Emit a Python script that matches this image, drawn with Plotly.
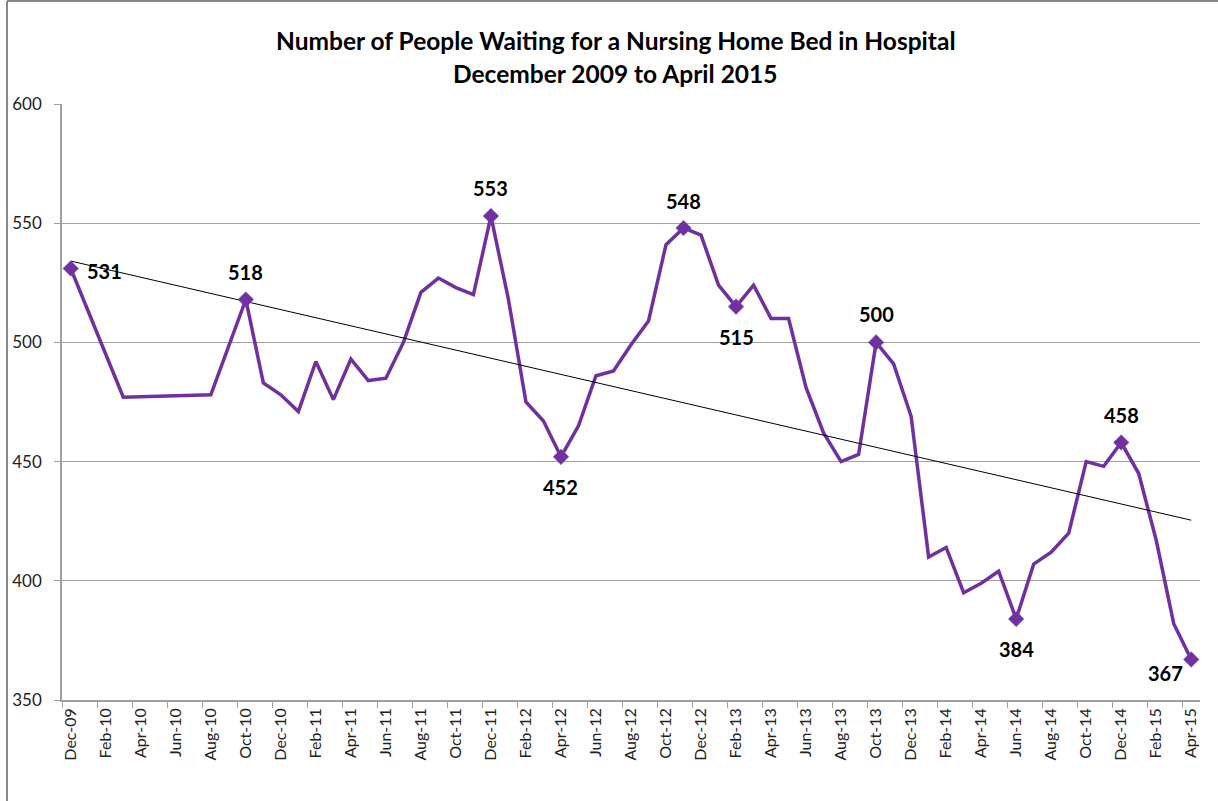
import numpy as np
import plotly.graph_objects as go

months = ["Dec-09", "Jan-10", "Feb-10", "Mar-10", "Apr-10", "May-10", "Jun-10", "Jul-10", "Aug-10", "Sep-10",
          "Oct-10", "Nov-10", "Dec-10", "Jan-11", "Feb-11", "Mar-11", "Apr-11", "May-11", "Jun-11", "Jul-11",
          "Aug-11", "Sep-11", "Oct-11", "Nov-11", "Dec-11", "Jan-12", "Feb-12", "Mar-12", "Apr-12", "May-12",
          "Jun-12", "Jul-12", "Aug-12", "Sep-12", "Oct-12", "Nov-12", "Dec-12", "Jan-13", "Feb-13", "Mar-13",
          "Apr-13", "May-13", "Jun-13", "Jul-13", "Aug-13", "Sep-13", "Oct-13", "Nov-13", "Dec-13", "Jan-14",
          "Feb-14", "Mar-14", "Apr-14", "May-14", "Jun-14", "Jul-14", "Aug-14", "Sep-14", "Oct-14", "Nov-14",
          "Dec-14", "Jan-15", "Feb-15", "Mar-15", "Apr-15"]

waiting = [531, None, None, 477, None, None, None, None, 478, None,
           518, 483, 478, 471, 492, 476, 493, 484, 485, 500,
           521, 527, 523, 520, 553, 518, 475, 467, 452, 465,
           486, 488, 499, 509, 541, 548, 545, 524, 515, 524,
           510, 510, 481, 462, 450, 453, 500, 491, 469, 410,
           414, 395, 399, 404, 384, 407, 412, 420, 450, 448,
           458, 445, 417, 382, 367]

labelled_months = ["Dec-09", "Oct-10", "Dec-11", "Apr-12", "Nov-12", "Feb-13", "Oct-13", "Jun-14", "Dec-14", "Apr-15"]

y_ticks = [350, 400, 450, 500, 550, 600]

title_lines = ["Number of People Waiting for a Nursing Home Bed in Hospital", "December 2009 to April 2015"]

# label offsets in pixels (dx, dy-up) for each labelled point
label_offsets = [(34, -2), (0, 27), (0, 28), (0, -30), (0, 27), (0, -30), (0, 28), (0, -30), (0, 27.5), (-26, -14)]

# positions of categories
xi = list(range(len(months)))
lab_x = [months.index(m) for m in labelled_months]
lab_y = [waiting[i] for i in lab_x]

# linear trendline from available data
px_ = np.array([i for i, v in zip(xi, waiting) if v is not None], dtype=float)
py_ = np.array([v for v in waiting if v is not None], dtype=float)
slope, intercept = np.polyfit(px_, py_, 1)
trend_x = [xi[0], xi[-1]]
trend_y = [slope * x + intercept for x in trend_x]

PURPLE = "#7030A0"
GRID = "#A0A0A0"
FONT = "Lato, Open Sans, sans-serif"

W, H = 1218, 801
L, R, T, B = 62, 18, 104, 101
PW, PH = W - L - R, H - T - B

fig = go.Figure()
fig.add_trace(go.Scatter(x=xi, y=waiting, mode="lines", connectgaps=True,
                         line=dict(color=PURPLE, width=3.5), hoverinfo="skip", showlegend=False))
fig.add_trace(go.Scatter(x=trend_x, y=trend_y, mode="lines",
                         line=dict(color="black", width=1), showlegend=False))
fig.add_trace(go.Scatter(x=lab_x, y=lab_y, mode="markers",
                         marker=dict(symbol="diamond", size=12, color=PURPLE,
                                     line=dict(color="#6A5ACD", width=0.5)),
                         showlegend=False))

annotations = [
    dict(text=title_lines[0], xref="paper", yref="paper", x=(615 - L) / PW, y=1 + (T - 41) / PH,
         xanchor="center", yanchor="middle", showarrow=False,
         font=dict(family=FONT, size=24.5, color="black", weight="bold")),
    dict(text=title_lines[1], xref="paper", yref="paper", x=(615 - L) / PW, y=1 + (T - 73) / PH,
         xanchor="center", yanchor="middle", showarrow=False,
         font=dict(family=FONT, size=24.5, color="black", weight="bold")),
]
for x, y, (dx, dy) in zip(lab_x, lab_y, label_offsets):
    annotations.append(dict(text=str(y), x=x, y=y, xref="x", yref="y", showarrow=False,
                            xanchor="center", yanchor="middle", xshift=dx, yshift=dy,
                            font=dict(family=FONT, size=20, color="black", weight="bold")))

fig.update_layout(
    width=W, height=H,
    paper_bgcolor="white", plot_bgcolor="white",
    margin=dict(l=L, r=R, t=T, b=B),
    annotations=annotations,
    xaxis=dict(range=[-0.5, len(months) - 0.5], tickmode="array",
               tickvals=xi[::2], ticktext=months[::2], tickangle=-90,
               ticks="", showgrid=False, showline=True, linecolor=GRID, linewidth=1.5,
               tickfont=dict(family=FONT, size=16, color="#222"),
               minor=dict(tick0=-0.5, dtick=2, ticks="outside", ticklen=6, tickcolor=GRID,
                          tickwidth=1, showgrid=False),
               zeroline=False),
    yaxis=dict(range=[350, 600], tickmode="array", tickvals=y_ticks,
               showgrid=True, gridcolor=GRID, gridwidth=1,
               showline=True, linecolor=GRID, linewidth=1.5,
               ticks="outside", ticklen=6, tickcolor=GRID, ticklabelstandoff=9,
               tickfont=dict(family=FONT, size=17, color="#222"), zeroline=False),
    shapes=[
        dict(type="line", xref="paper", yref="paper", x0=(7 - L) / PW, x1=(W - L) / PW,
             y0=1 + (T - 1) / PH, y1=1 + (T - 1) / PH, line=dict(color="#888", width=2)),
        dict(type="line", xref="paper", yref="paper", x0=(7 - L) / PW, x1=(7 - L) / PW,
             y0=-(B) / PH, y1=1 + (T - 1) / PH, line=dict(color="#888", width=2)),
    ],
)

fig.write_html("out.html", config={"displayModeBar": False},
               post_script="document.body.style.margin='0';")
